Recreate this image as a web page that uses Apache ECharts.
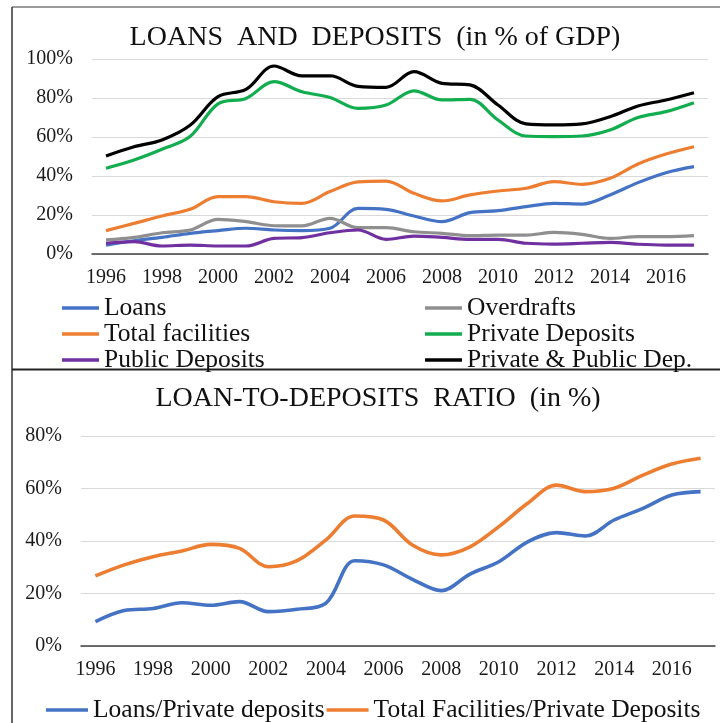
<!DOCTYPE html>
<html>
<head>
<meta charset="utf-8">
<script src="https://cdn.jsdelivr.net/npm/echarts@6/dist/echarts.min.js"></script>
<style>
  html, body { margin: 0; padding: 0; background: #fff; }
  #chart { width: 720px; height: 723px; }
</style>
</head>
<body>
<div id="chart"></div>
<script>
// Years on the horizontal axis (both panels)
const years = ['1996','1997','1998','1999','2000','2001','2002','2003','2004','2005','2006',
               '2007','2008','2009','2010','2011','2012','2013','2014','2015','2016','2017'];

// Loans and deposits, % of GDP
const loans = [4.5, 6.8, 8.5, 10.6, 12.0, 13.2, 12.3, 12.0, 13.2, 23.4, 22.9,
               19.5, 16.6, 21.2, 22.2, 24.3, 26.0, 25.6, 30.3, 36.6, 41.7, 44.8];
const overdrafts = [7.2, 8.5, 10.9, 12.3, 17.8, 16.6, 14.5, 14.4, 18.3, 13.5, 13.5,
                    11.4, 10.6, 9.4, 9.7, 9.7, 11.1, 10.1, 8.0, 8.9, 8.9, 9.4];
const totalFacilities = [12.0, 15.7, 19.5, 22.9, 29.4, 29.4, 26.8, 26.0, 32.0, 37.0, 37.4,
                         31.1, 27.2, 30.3, 32.3, 33.7, 37.1, 35.7, 38.8, 46.2, 51.3, 55.0];
const privateDeposits = [44.0, 48.2, 53.7, 60.2, 77.0, 79.8, 88.4, 83.2, 80.3, 74.7, 76.4,
                         83.7, 79.0, 79.3, 68.7, 60.5, 60.2, 60.5, 63.6, 70.0, 73.0, 77.6];
const publicDeposits = [5.5, 6.3, 4.1, 4.6, 4.1, 4.1, 8.0, 8.4, 10.9, 12.3, 7.5,
                        9.2, 8.5, 7.5, 7.5, 5.5, 5.1, 5.5, 6.0, 5.0, 4.6, 4.6];
const totalDeposits = [50.3, 55.0, 58.5, 66.0, 80.7, 84.4, 96.4, 91.3, 91.4, 86.0, 85.5,
                       93.5, 87.5, 86.7, 76.4, 66.7, 66.2, 66.7, 70.4, 75.9, 79.0, 82.7];

// Loan-to-deposits ratio, %
const loansToPrivate = [9.3, 13.5, 14.3, 16.5, 15.5, 16.9, 13.1, 14.0, 16.3, 32.5, 30.9,
                        25.4, 21.1, 27.4, 32.1, 39.7, 43.2, 41.9, 48.0, 52.4, 57.5, 58.8];
const facilitiesToPrivate = [26.7, 30.9, 34.0, 36.2, 38.7, 37.2, 30.2, 32.5, 40.4, 49.5, 48.0,
                             38.5, 34.7, 37.8, 45.5, 54.4, 61.3, 58.8, 60.1, 65.1, 69.3, 71.5];

const SERIF = '"Liberation Serif", "Times New Roman", serif';
const C = {
  blue: '#4472C4', orange: '#ED7D31', gray: '#8F8F8F',
  green: '#12AD4F', purple: '#7030A0', black: '#000000'
};

function line(name, data, color, xi, yi, width) {
  return {
    name, type: 'line', data, xAxisIndex: xi, yAxisIndex: yi,
    smooth: 0.35, symbol: 'none',
    lineStyle: { color, width: width || 3.2 },
    itemStyle: { color }
  };
}

function xAxis(gridIndex) {
  return {
    type: 'category', gridIndex, data: years, boundaryGap: true,
    axisTick: { show: false },
    axisLine: { lineStyle: { color: '#404040', width: 1.5 } },
    axisLabel: {
      interval: 1, margin: 14, color: '#1a1a1a',
      fontFamily: SERIF, fontSize: 20
    }
  };
}

function yAxis(gridIndex, max) {
  return {
    type: 'value', gridIndex, min: 0, max, interval: 20,
    axisLine: { show: false }, axisTick: { show: false },
    splitLine: { lineStyle: { color: '#d9d9d9', width: 1.2 } },
    axisLabel: {
      margin: 19, color: '#1a1a1a', fontFamily: SERIF, fontSize: 20,
      formatter: '{value}%'
    }
  };
}

const legendText = { fontFamily: SERIF, fontSize: 25.5, color: '#111', lineHeight: 23.5 };
const legendBase = {
  orient: 'vertical', padding: 0, itemGap: 0, icon: 'rect',
  itemWidth: 37, itemHeight: 3.5, textStyle: legendText
};

const chart = echarts.init(document.getElementById('chart'), null, { renderer: 'canvas' });

chart.setOption({
  backgroundColor: '#ffffff',
  animation: false,
  title: [
    {
      text: 'LOANS  AND  DEPOSITS  (in % of GDP)',
      left: 370, top: 19, textAlign: 'center', padding: 5,
      textStyle: { fontFamily: SERIF, fontSize: 28, fontWeight: 'normal', color: '#111' }
    },
    {
      text: 'LOAN-TO-DEPOSITS  RATIO  (in %)',
      left: 373, top: 380, textAlign: 'center', padding: 5,
      textStyle: { fontFamily: SERIF, fontSize: 28, fontWeight: 'normal', color: '#111' }
    }
  ],
  legend: [
    Object.assign({}, legendBase, {
      left: 62, top: 295,
      data: ['Loans', 'Total facilities', 'Public Deposits']
    }),
    Object.assign({}, legendBase, {
      left: 425, top: 295,
      data: ['Overdrafts', 'Private Deposits', 'Private & Public Dep.']
    }),
    {
      orient: 'horizontal', padding: 0, itemGap: 2, icon: 'rect',
      itemWidth: 42, itemHeight: 3.5, left: 46, top: 697,
      textStyle: legendText,
      data: ['Loans/Private deposits', 'Total Facilities/Private Deposits']
    }
  ],
  grid: [
    { left: 92, right: 12, top: 59, bottom: 469 },
    { left: 81, right: 5, top: 436, bottom: 77 }
  ],
  xAxis: [xAxis(0), xAxis(1)],
  yAxis: [yAxis(0, 100), yAxis(1, 80)],
  series: [
    line('Loans', loans, C.blue, 0, 0),
    line('Overdrafts', overdrafts, C.gray, 0, 0),
    line('Total facilities', totalFacilities, C.orange, 0, 0),
    line('Private Deposits', privateDeposits, C.green, 0, 0),
    line('Public Deposits', publicDeposits, C.purple, 0, 0),
    line('Private & Public Dep.', totalDeposits, C.black, 0, 0),
    line('Loans/Private deposits', loansToPrivate, C.blue, 1, 1, 3.6),
    line('Total Facilities/Private Deposits', facilitiesToPrivate, C.orange, 1, 1, 3.6)
  ],
  graphic: [
    // panel frames
    { type: 'line', shape: { x1: 12, y1: 7, x2: 720, y2: 7 }, style: { stroke: '#7a7a7a', lineWidth: 1.5 } },
    { type: 'line', shape: { x1: 12, y1: 7, x2: 12, y2: 723 }, style: { stroke: '#333', lineWidth: 1.5 } },
    { type: 'line', shape: { x1: 12, y1: 369.5, x2: 720, y2: 369.5 }, style: { stroke: '#222', lineWidth: 2.2 } }
  ]
});
</script>
</body>
</html>
